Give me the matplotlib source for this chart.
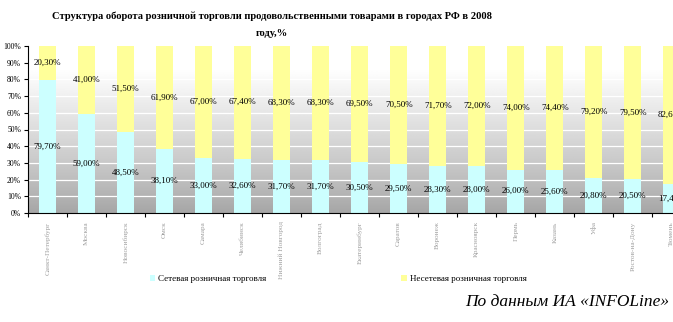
import numpy as np
import matplotlib
matplotlib.use("Agg")
import matplotlib.pyplot as plt
from matplotlib.ticker import FixedLocator

plt.rcParams['font.family'] = ['Liberation Serif', 'DejaVu Serif']

cities = ['Санкт-Петербург', 'Москва', 'Новосибирск', 'Омск', 'Самара',
          'Челябинск', 'Нижний Новгород', 'Волгоград', 'Екатеринбург',
          'Саратов', 'Воронеж', 'Красноярск', 'Пермь', 'Казань', 'Уфа',
          'Ростов-на-Дону', 'Тюмень']
chain = [79.70, 59.00, 48.50, 38.10, 33.00, 32.60, 31.70, 31.70, 30.50,
         29.50, 28.30, 28.00, 26.00, 25.60, 20.80, 20.50, 17.40]
non_chain = [20.30, 41.00, 51.50, 61.90, 67.00, 67.40, 68.30, 68.30, 69.50,
             70.50, 71.70, 72.00, 74.00, 74.40, 79.20, 79.50, 82.60]

W, H = 673, 322
fig = plt.figure(figsize=(W / 100, H / 100), dpi=100)
# plot area: x 28..673 px, y 46..213 px
ax = fig.add_axes([28 / W, (H - 213) / H, (W - 28) / W, 167 / H])

x = np.arange(len(cities))
xlim = (-0.5, 16.03)

# grey gradient background, white near the top
yy = np.linspace(0, 1, 256)[:, None]
grad = np.clip(0.65 + 0.40 * yy ** 0.9, 0, 1)
ax.imshow(np.repeat(grad, 2, axis=1), cmap='gray', vmin=0, vmax=1,
          extent=(xlim[0], xlim[1], 0, 100), origin='lower',
          aspect='auto', zorder=0)
for g in range(10, 100, 10):
    ax.axhline(g, color='white', lw=0.9, zorder=1)

bw = 0.43
b1 = ax.bar(x, chain, bw, color='#ccffff', zorder=2,
            label='Сетевая розничная торговля')
b2 = ax.bar(x, non_chain, bw, bottom=chain, color='#ffff99', zorder=2,
            label='Несетевая розничная торговля')

fmt = lambda v: f'{v:.2f}'.replace('.', ',') + '%'
for xi, c, n in zip(x, chain, non_chain):
    ax.text(xi, c / 2, fmt(c), ha='center', va='center', fontsize=6.5,
            zorder=3)
    ax.text(xi, c + n / 2, fmt(n), ha='center', va='center', fontsize=6.5,
            zorder=3)

ax.set_xlim(*xlim)
ax.set_ylim(0, 100)
ax.set_yticks(range(0, 101, 10))
ax.set_yticklabels([f'{v}%' for v in range(0, 101, 10)], fontsize=5.5)
ax.tick_params(axis='y', length=3, width=0.8, pad=2)

ax.set_xticks(x)
ax.set_xticklabels(cities, rotation=90, fontsize=5.2, color='#a0a0a0',
                   va='top')
ax.xaxis.set_minor_locator(FixedLocator(np.arange(-0.5, 17, 1)))
ax.tick_params(axis='x', which='major', length=0, pad=6)
ax.tick_params(axis='x', which='minor', length=3, width=0.8)

for s in ['top', 'right']:
    ax.spines[s].set_visible(False)
for s in ['left', 'bottom']:
    ax.spines[s].set_linewidth(0.8)

fig.text(272 / W, 1 - 25 / H,
         'Структура оборота розничной торговли продовольственными товарами в городах РФ в 2008\nгоду,%',
         ha='center', va='center', fontsize=7.6, fontweight='bold',
         linespacing=2.2)

fig.legend(handles=[b1, b2], loc='center', bbox_to_anchor=(338 / W, 1 - 279 / H),
           ncol=2, frameon=False, fontsize=6.5, columnspacing=15,
           handlelength=0.6, handleheight=0.6, handletextpad=0.3)

fig.text(669 / W, 1 - 302 / H, 'По данным ИА «INFOLine»', ha='right',
         va='center', fontsize=12.5, style='italic')

fig.savefig('out.png', dpi=100)
